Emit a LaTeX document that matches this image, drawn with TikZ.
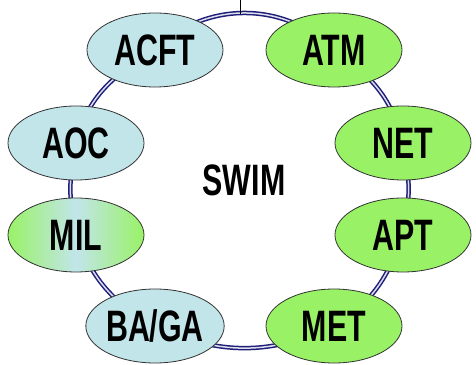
\documentclass[tikz,border=0pt]{standalone}
\usepackage{fontspec}
\setmainfont{Liberation Sans}[FakeStretch=0.69]
\usetikzlibrary{shapes.geometric,backgrounds}
\definecolor{lblue}{HTML}{C2E5EA}
\definecolor{lgreen}{HTML}{99F266}
\definecolor{ringc}{HTML}{1E1E7A}
\begin{document}
\begin{tikzpicture}[x=1pt,y=1pt,
  sys/.style={ellipse, minimum width=136pt, minimum height=74pt, inner sep=0pt,
    draw=black!80, line width=0.8pt, font=\fontsize{44}{44}\selectfont\bfseries},
  blue sys/.style={sys, fill=lblue},
  green sys/.style={sys, fill=lgreen},
  mixed sys/.style={sys, left color=lgreen, right color=lgreen, middle color=lblue},
  ring/.style={draw=ringc, line width=1.5pt, double=ringc!15, double distance=1.5pt}]
\useasboundingbox (0,0) rectangle (476,364);
\node[blue sys]  (acft) at (155,314) {ACFT};
\node[green sys] (atm)  at (334,314) {ATM};
\node[green sys] (net)  at (403,221) {NET};
\node[green sys] (apt)  at (403,129) {APT};
\node[green sys] (met)  at (334,38)  {MET};
\node[blue sys]  (baga) at (155,38)  {BA/GA};
\node[mixed sys] (mil)  at (76,129)  {MIL};
\node[blue sys]  (aoc)  at (76,221)  {AOC};
\node[font=\fontsize{44}{44}\selectfont\bfseries] (swim) at (244,184) {SWIM};
\coordinate (top) at (240,364);
\coordinate (ringtop) at (240,350);
\begin{scope}[on background layer]
\draw[ring] (acft.center) to[out=45,in=135] (atm.center);
\draw[ring] (atm.center) to[out=-34.3,in=103.4] (net.center);
\draw[ring] (net.center) to[out=-78,in=78] (apt.center);
\draw[ring] (apt.center) to[out=250.4,in=31.3] (met.center);
\draw[ring] (met.center) to[out=205,in=-25] (baga.center);
\draw[ring] (baga.center) to[out=151.8,in=-70.1] (mil.center);
\draw[ring] (mil.center) to[out=102,in=-102] (aoc.center);
\draw[ring] (aoc.center) to[out=76.4,in=211] (acft.center);
\end{scope}
\draw[line width=0.8pt] (top) -- (ringtop);
\end{tikzpicture}
\end{document}
